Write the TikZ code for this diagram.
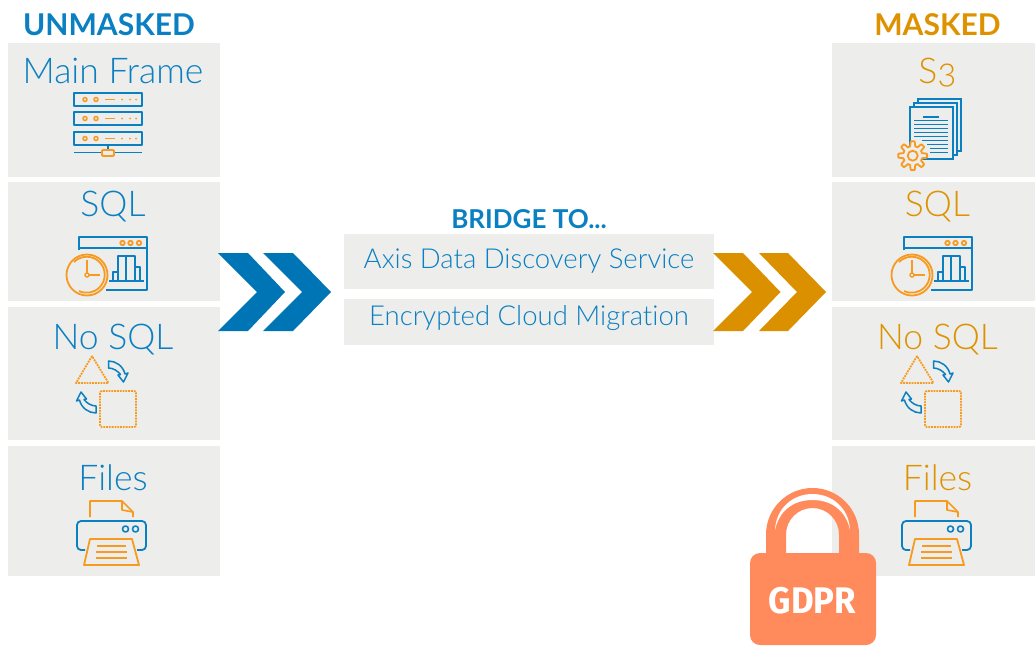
\documentclass[tikz,border=0pt]{standalone}
\usepackage{fontspec}
\setmainfont{Lato}
\newfontfamily\lightf[Ligatures=NoCommon]{Lato Light}
\newfontfamily\oldf[Numbers=OldStyle]{Lato Light}
\newfontfamily\gdprf{Fira Sans}
\definecolor{tblue}{HTML}{0A7FC2}
\definecolor{cblue}{HTML}{0075B5}
\definecolor{torange}{HTML}{DE9200}
\definecolor{corange}{HTML}{DB9000}
\definecolor{iorange}{HTML}{F79A1F}
\definecolor{panelgray}{HTML}{EDEDEB}
\definecolor{lockc}{HTML}{FF8A5B}
\tikzset{
 x=1pt,y=-1pt,
 panel/.style={fill=panelgray,draw=none,inner sep=0pt,anchor=north west},
 lbl/.style={inner sep=0pt,anchor=base,font=\lightf\fontsize{35.5}{36}\selectfont},
 head/.style={inner sep=0pt,anchor=base,font=\bfseries\fontsize{30}{30}\selectfont},
 midtext/.style={inner sep=0pt,anchor=base,text=tblue,font=\lightf\fontsize{27.5}{28}\selectfont},
 ib/.style={draw=tblue,line width=1.8pt,line join=round},
 io/.style={draw=iorange,line width=1.8pt,line join=round},
 sqlicon/.pic={
  \draw[ib] (79,250)--(79,237)--(147,237)--(147,290)--(106,290);
  \draw[ib] (79,248)--(147,248);
  \foreach \a in {122.5,130.5,139} \draw[io] (\a,243) circle (2.2);
  \draw[ib] (109,281)--(144,281);
  \draw[ib] (113,281)--(113,272)--(118,272)--(118,281);
  \draw[ib] (118,272)--(118,256)--(126,256)--(126,281);
  \draw[ib] (126,256)--(135,256)--(135,281);
  \draw[ib] (135,267)--(140,267)--(140,281);
  \draw[io] (87,275) circle (20.5);
  \draw[io] (74,262) arc (225:475:18);
  \draw[io] (87,260)--(87,275)--(100,275);
  \fill[panelgray,draw=iorange,line width=1.4pt] (87,275) circle (2);
 },
 nosqlicon/.pic={
  \draw[draw=iorange,line width=1.8pt,densely dotted,line join=round] (92,356)--(76,383)--(108.5,383)--cycle;
  \draw[draw=iorange,line width=1.8pt,densely dotted,rounded corners=2pt] (100,391) rectangle (136,427);
  \draw[ib,line width=1.5pt] (108.5,361) .. controls (116,361) and (123,366) .. (125,374) -- (128,373) -- (123.5,382) -- (118,375) -- (120.5,374.5) .. controls (118,371) and (113,368) .. (108.5,368) -- cycle;
  \draw[ib,line width=1.5pt] (96,413) .. controls (88.5,413) and (81.5,408) .. (79.5,400) -- (76.5,401) -- (81,392) -- (86.5,399) -- (84,399.5) .. controls (86.5,403) and (91.5,406) .. (96,406) -- cycle;
 },
 printicon/.pic={
  \draw[io,line width=1.6pt] (90,517)--(90,501)--(122,501)--(133,512)--(133,517);
  \draw[io,line width=1.6pt] (122,501)--(122,510)--(133,512);
  \draw[ib,rounded corners=4pt] (85,550)--(77,550)--(77,521)--(146,521)--(146,550)--(137,550);
  \draw[ib,line width=1.6pt] (125.5,529) circle (3) (135.5,529) circle (3);
  \draw[io] (84,565)--(90,539)--(132,539)--(139,565)--cycle;
  \draw[io] (97,546)--(126,546) (96,552)--(127,552) (96,558)--(127,558);
 },
}
\begin{document}
\begin{tikzpicture}
\useasboundingbox (0,0) rectangle (1035,645);
% left panels
\node[panel,minimum width=212pt,minimum height=134pt] (l1) at (8,43) {};
\node[panel,minimum width=212pt,minimum height=119pt] (l2) at (8,182) {};
\node[panel,minimum width=212pt,minimum height=133pt] (l3) at (8,307) {};
\node[panel,minimum width=212pt,minimum height=130pt] (l4) at (8,446) {};
% right panels
\node[panel,minimum width=203pt,minimum height=134pt] (r1) at (832,43) {};
\node[panel,minimum width=203pt,minimum height=119pt] (r2) at (832,182) {};
\node[panel,minimum width=203pt,minimum height=133pt] (r3) at (832,307) {};
\node[panel,minimum width=203pt,minimum height=130pt] (r4) at (832,446) {};
% centre panels
\node[panel,minimum width=370pt,minimum height=55pt] (c1) at (344,234) {};
\node[panel,minimum width=370pt,minimum height=46pt] (c2) at (344,299) {};
% headings
\node[head,text=tblue] (hu) at (109,35) {UNMASKED};
\node[head,text=torange] (hm) at (937.5,35) {MASKED};
\node[head,text=tblue,font=\bfseries\fontsize{26}{26}\selectfont] (hb) at (529,228) {BRIDGE TO...};
% labels
\node[lbl,text=tblue] (t1) at (113,83) {Main Frame};
\node[lbl,text=tblue] (t2) at (113,216) {SQL};
\node[lbl,text=tblue] (t3) at (113,349) {No SQL};
\node[lbl,text=tblue] (t4) at (113,490) {Files};
\node[lbl,text=torange,font=\oldf\fontsize{35.5}{36}\selectfont] (u1) at (937.5,83) {S3};
\node[lbl,text=torange] (u2) at (937.5,216) {SQL};
\node[lbl,text=torange] (u3) at (937.5,349) {No SQL};
\node[lbl,text=torange] (u4) at (937.5,490) {Files};
\node[midtext] (m1) at (529,268) {Axis Data Discovery Service};
\node[midtext] (m2) at (529,325) {Encrypted Cloud Migration};
% chevrons
\fill[cblue] (218,253)--(248,253)--(285,292)--(248,331)--(218,331)--(257,292)--cycle;
\fill[cblue] (263,253)--(293,253)--(331,292)--(293,331)--(263,331)--(302,292)--cycle;
\fill[corange] (713,253)--(743,253)--(780.5,292)--(743,331)--(713,331)--(752,292)--cycle;
\fill[corange] (759,253)--(788,253)--(826,292)--(788,331)--(759,331)--(797,292)--cycle;
% server icon
\foreach \y in {93,112,132}{
 \draw[ib] (74,\y) rectangle (142,\y+13);
 \foreach \a in {85,96} \draw[io,line width=1.6pt] (\a,\y+6.5) circle (2);
 \draw[io] (105,\y+6.5)--(115,\y+6.5);
 \foreach \a in {122,130,136} \fill[iorange] (\a,\y+6.5) circle (1);
}
\draw[ib] (108,145)--(108,150) (74,152.5)--(102,152.5) (114,152.5)--(142,152.5);
\draw[io,rounded corners=1pt] (102,150) rectangle (114,156);
% sql, nosql, printer icons
\pic {sqlicon};
\pic[shift={(825,0)}] {sqlicon};
\pic {nosqlicon};
\pic[shift={(825,0)}] {nosqlicon};
\pic {printicon};
\pic[shift={(825,0)}] {printicon};
% S3 icon
\foreach \d in {8,4,0}
 \draw[draw=tblue,fill=panelgray,line width=1.8pt] (910+\d,107-\d) rectangle (953+\d,159-\d);
\draw[ib] (923,117)--(939,117);
\foreach \y in {120.5,124.5,128.5,132.5,136.5} \draw[ib,line width=1.4pt] (914,\y)--(948,\y);
\foreach \y/\a in {140.5/922,144.5/927,148.5/930,152.5/930} \draw[ib,line width=1.4pt] (\a,\y)--(948,\y);
\draw[io,fill=panelgray,shift={(912.7,155.7)}] plot[domain=0:360,samples=145] (\x:{12+2.4*min(1,max(-1,2*cos(8*\x)))}) -- cycle;
\draw[io] (912.7,155.7) circle (5);
% lock
\fill[lockc] (766,560) -- (766,534.5) arc (180:360:46.5) -- (859,560) -- (839,560) -- (839,534.5) arc (360:180:26.5) -- (786,560) -- cycle;
\fill[lockc,rounded corners=10pt] (750,553) rectangle (876,645);
\fill[white] (775,530) .. controls (776,508) and (793,494) .. (812.5,494) .. controls (832,494) and (849,508) .. (850,530) .. controls (846,511) and (832,500) .. (812.5,500) .. controls (793,500) and (779,511) .. (775,530) -- cycle;
\node[inner sep=0pt,anchor=base,xscale=0.94,text=white,font=\gdprf\bfseries\fontsize{37}{37}\selectfont] (g) at (812.5,613) {GDPR};
\end{tikzpicture}
\end{document}
